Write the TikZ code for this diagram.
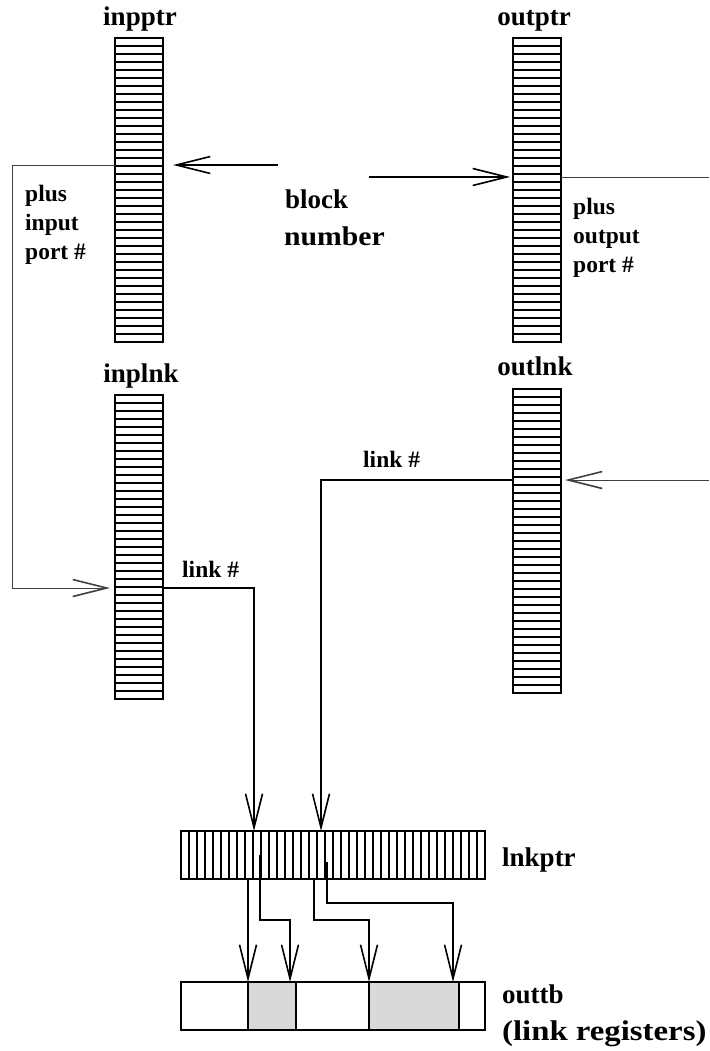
\documentclass[tikz,border=0pt]{standalone}
\usepackage{fontspec}
\usepackage{graphicx}
\setmainfont{Liberation Serif}
\usetikzlibrary{arrows.meta,calc}
\begin{document}
\begin{tikzpicture}[x=1pt,y=-1pt,
  heavy/.style={line width=1.6pt},
  thinline/.style={line width=0.8pt, draw=black!75},
  tip/.style={-{Straight Barb[length=34pt,width=17pt,line width=1.6pt]}},
  vcol/.style={draw, line width=1.8pt, minimum width=48pt, minimum height=304pt, anchor=north west, inner sep=0pt, outer sep=0pt},
  hrow/.style={draw, line width=1.8pt, minimum width=304pt, minimum height=48pt, anchor=north west, inner sep=0pt, outer sep=0pt},
  stripe/.style={line width=1.5pt},
  big/.style={font=\bfseries\fontsize{27}{30}\selectfont, inner sep=0pt},
  small/.style={font=\bfseries\fontsize{23.5}{28}\selectfont, inner sep=0pt}
]
\useasboundingbox (0,0) rectangle (709,1051);

% columns
\node[vcol] (inpptr) at (115,38) {};
\node[vcol] (outptr) at (513,38) {};
\node[vcol] (inplnk) at (115,395) {};
\node[vcol] (outlnk) at (513,389) {};
\foreach \c in {inpptr,outptr,inplnk,outlnk}
  \foreach \i in {1,...,37}
    \draw[stripe] ($(\c.north west)+(0,\i*8)$) -- ++(48,0);

% lnkptr
\node[hrow] (lnkptr) at (181,831) {};
\foreach \i in {1,...,37}
  \draw[stripe] ($(lnkptr.north west)+(\i*8,0)$) -- ++(0,48);

% outtb
\fill[black!15] (248,982) rectangle (296,1030);
\fill[black!15] (369,982) rectangle (459,1030);
\node[hrow] (outtb) at (181,982) {};
\foreach \xx in {248,296,369,459}
  \draw[heavy] (outtb.north -| \xx,0) -- (outtb.south -| \xx,0);

% labels
\node[big, anchor=base] (linpptr) at (140,26) {inpptr};
\node[big, anchor=base] (loutptr) at (534,26) {outptr};
\node[big, anchor=base] (linplnk) at (141,382) {inplnk};
\node[big, anchor=base] (loutlnk) at (535,375) {outlnk};
\node[big, anchor=base west] (lblock) at (285,208) {block};
\node[big, anchor=base west] (lnumber) at (284,245) {\scalebox{1.1}[1]{number}};
\node[big, anchor=base west] (llnkptr) at (502,866) {lnkptr};
\node[big, anchor=base west] (louttb) at (502,1003) {outtb};
\node[big, anchor=base west, font=\bfseries\fontsize{28.5}{32}\selectfont] (llinkreg) at (502,1040) {\scalebox{1.15}[1]{(link registers)}};

\node[small, anchor=base west] (lp1) at (25,201) {plus};
\node[small, anchor=base west] (lp2) at (25,230) {input};
\node[small, anchor=base west] (lp3) at (25,259) {port \#};
\node[small, anchor=base west] (lq1) at (573,214) {plus};
\node[small, anchor=base west] (lq2) at (573,243) {output};
\node[small, anchor=base west] (lq3) at (573,272) {port \#};
\node[small, anchor=base west] (llink1) at (182,577) {link \#};
\node[small, anchor=base west] (llink2) at (363,467) {link \#};

% connectors
\coordinate (bnL) at (278,165);
\coordinate (bnR) at (369,177);
\coordinate (rightA) at (709,177);
\coordinate (rightB) at (709,480);

\draw[heavy,tip] (bnL) -- ($(inpptr.east |- bnL)+(10,0)$);
\draw[heavy,tip] (bnR) -- ($(outptr.west |- bnR)+(-3,0)$);
\draw[thinline] (outptr.east |- rightA) -- (rightA);
\draw[thinline,tip] (inpptr.west |- bnL) -- (12,165) -- (12,588) -- ($(inplnk.west |- 0,588)+(-5,0)$);
\draw[thinline,tip] (rightB) -- ($(outlnk.east |- rightB)+(4,0)$);

\draw[heavy,tip] (outlnk.west |- rightB) -- (321,480) -- (lnkptr.north -| 321,0);
\draw[heavy,tip] (inplnk.east |- 0,588) -- (254,588) -- (lnkptr.north -| 254,0);

\draw[heavy,tip] (lnkptr.south -| 248,0) -- (outtb.north -| 248,0);
\draw[heavy,tip] (260,855) -- (260,920) -- (290,920) -- (outtb.north -| 290,0);
\draw[heavy,tip] (lnkptr.south -| 314,0) -- (314,920) -- (369,920) -- (outtb.north -| 369,0);
\draw[heavy,tip] (327,862) -- (327,903) -- (453,903) -- (outtb.north -| 453,0);
\end{tikzpicture}
\end{document}
